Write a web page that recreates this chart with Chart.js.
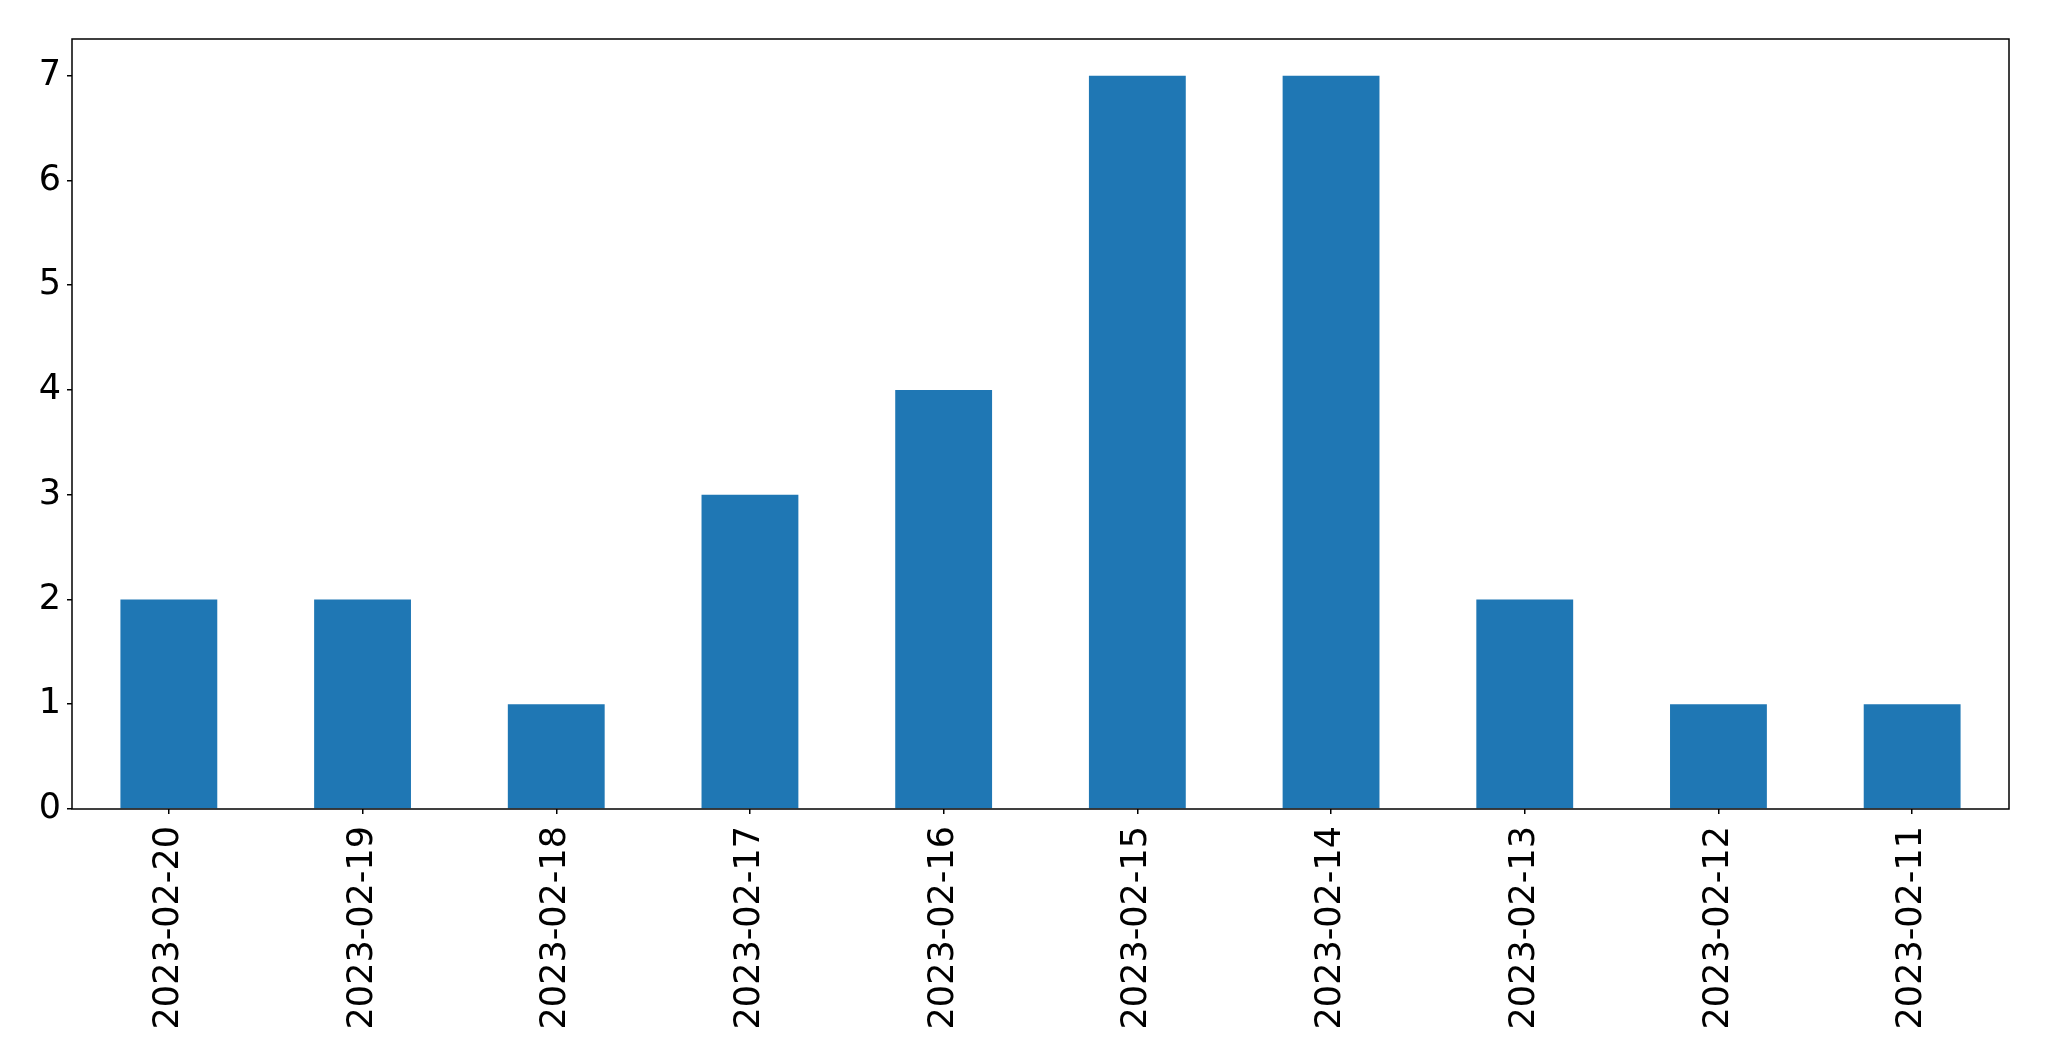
<!DOCTYPE html>
<html>
<head>
<meta charset="utf-8">
<script src="https://cdn.jsdelivr.net/npm/chart.js@4"></script>
<style>
  html, body { margin: 0; padding: 0; background: #fff; }
</style>
</head>
<body>
<canvas id="myChart" width="2049" height="1061"></canvas>
<script>
var labels = ["2023-02-20", "2023-02-19", "2023-02-18", "2023-02-17", "2023-02-16",
              "2023-02-15", "2023-02-14", "2023-02-13", "2023-02-12", "2023-02-11"];
var counts = [2, 2, 1, 3, 4, 7, 7, 2, 1, 1];
var yTicks = [0, 1, 2, 3, 4, 5, 6, 7];
var yMax = 7.35;

// black box round the plot area, like matplotlib spines
var frame = {
  id: 'frame',
  afterDatasetsDraw: function(chart) {
    var a = chart.chartArea;
    var ctx = chart.ctx;
    ctx.save();
    ctx.strokeStyle = '#000';
    ctx.lineWidth = 1.5;
    ctx.strokeRect(a.left, a.top, a.right - a.left, a.bottom - a.top);
    ctx.restore();
  }
};

Chart.defaults.font.family = '"DejaVu Sans", sans-serif';
Chart.defaults.color = '#000';

var myChart = new Chart(document.getElementById('myChart').getContext('2d'), {
  type: 'bar',
  data: {
    labels: labels,
    datasets: [{
      data: counts,
      backgroundColor: '#1f77b4',
      borderWidth: 0,
      barPercentage: 0.5,
      categoryPercentage: 1.0
    }]
  },
  options: {
    responsive: false,
    devicePixelRatio: 1,
    animation: false,
    layout: { padding: { top: 39, right: 40, left: 0, bottom: 0 } },
    plugins: { legend: { display: false }, tooltip: { enabled: false } },
    scales: {
      x: {
        offset: true,
        border: { display: false },
        grid: { offset: false, drawOnChartArea: false, drawTicks: true, tickLength: 5, color: '#000', lineWidth: 1.5 },
        ticks: { minRotation: 90, maxRotation: 90, padding: 12, font: { size: 35 }, color: '#000' },
        afterFit: function(s) { s.height = 252; }
      },
      y: {
        min: 0,
        max: yMax,
        border: { display: false },
        grid: { drawOnChartArea: false, drawTicks: true, tickLength: 5, color: '#000', lineWidth: 1.5 },
        ticks: { padding: 6, font: { size: 35 }, color: '#000' },
        afterBuildTicks: function(s) {
          s.ticks = yTicks.map(function(v) { return { value: v }; });
        },
        afterFit: function(s) { s.width = 72; }
      }
    }
  },
  plugins: [frame]
});
</script>
</body>
</html>
